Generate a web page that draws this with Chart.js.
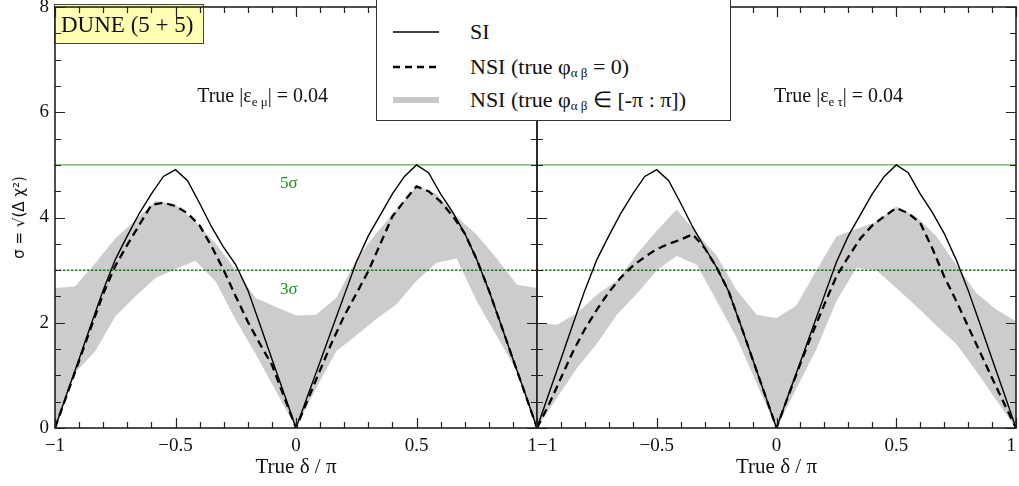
<!DOCTYPE html>
<html>
<head>
<meta charset="utf-8">
<script src="https://cdn.jsdelivr.net/npm/chart.js@4.4.1/dist/chart.umd.min.js"></script>
<style>
    body { margin: 0; background: #fff; }
    #wrap { position: relative; width: 1019px; height: 486px; overflow: hidden; }
    canvas { position: absolute; left: 0; top: 0; }
    #legend {
        position: absolute; left: 376px; top: -1px; width: 353px; height: 120px;
        border: 1px solid #333; background: #fff; z-index: 5;
        font-family: "Liberation Serif", serif; font-size: 22px; color: #111;
    }
    #legend .row { position: absolute; left: 0; height: 24px; }
    #legend svg { position: absolute; left: 14px; top: 7px; }
    #legend span { position: absolute; left: 93px; top: 0; white-space: nowrap; line-height: 24px; }
    #legend sub { font-size: 13px; vertical-align: -3px; line-height: 0; }
</style>
</head>
<body>
<div id="wrap">
    <canvas id="emuChart" width="1019" height="486"></canvas>
    <canvas id="etauChart" width="1019" height="486"></canvas>
    <div id="legend">
        <div class="row" style="top:20px"><svg width="50" height="10"><line x1="2" y1="5" x2="48" y2="5" stroke="#000" stroke-width="1.5"/></svg><span>SI</span></div>
        <div class="row" style="top:55px"><svg width="50" height="10"><line x1="2" y1="5" x2="48" y2="5" stroke="#000" stroke-width="2.4" stroke-dasharray="7,5"/></svg><span>NSI (true φ<sub>α β</sub> = 0)</span></div>
        <div class="row" style="top:88px"><svg width="50" height="10"><line x1="2" y1="5" x2="48" y2="5" stroke="#c8c8c8" stroke-width="6"/></svg><span>NSI (true φ<sub>α β</sub> ∈ [-π : π])</span></div>
    </div>
</div>
<script>
// true delta / pi grids
const deltaFine = [-1, -0.95, -0.9, -0.85, -0.8, -0.75, -0.7, -0.65, -0.6, -0.55, -0.5, -0.45, -0.4, -0.35, -0.3, -0.25, -0.2, -0.15, -0.1, -0.05,
    0, 0.05, 0.1, 0.15, 0.2, 0.25, 0.3, 0.35, 0.4, 0.45, 0.5, 0.55, 0.6, 0.65, 0.7, 0.75, 0.8, 0.85, 0.9, 0.95, 1];
const deltaBand = [-1, -0.917, -0.833, -0.75, -0.667, -0.583, -0.5, -0.417, -0.333, -0.25, -0.167, -0.083,
    0, 0.083, 0.167, 0.25, 0.333, 0.417, 0.5, 0.583, 0.667, 0.75, 0.833, 0.917, 1];

// eps_e_mu panel
const siEmu = [0, 0.66, 1.31, 1.97, 2.62, 3.2, 3.65, 4.08, 4.45, 4.78, 4.91, 4.7, 4.27, 3.82, 3.43, 3.1, 2.62, 1.97, 1.31, 0.66,
    0, 0.63, 1.26, 1.89, 2.52, 3.15, 3.65, 4.05, 4.45, 4.78, 5.0, 4.85, 4.45, 4.1, 3.7, 3.2, 2.62, 1.97, 1.31, 0.66, 0];
const nsiEmu = [0, 0.64, 1.28, 1.92, 2.55, 3.08, 3.48, 3.86, 4.24, 4.28, 4.22, 4.08, 3.85, 3.45, 3.0, 2.5, 2.02, 1.6, 1.2, 0.6,
    0, 0.55, 1.1, 1.64, 2.13, 2.55, 2.98, 3.5, 4.02, 4.32, 4.59, 4.5, 4.3, 4.03, 3.7, 3.2, 2.62, 1.97, 1.31, 0.66, 0];
const bandEmuHi = [2.66, 2.69, 3.13, 3.6, 3.95, 4.32, 4.24, 3.92, 3.5, 3.0, 2.47, 2.3,
    2.14, 2.15, 2.47, 3.2, 3.7, 4.15, 4.59, 4.45, 4.02, 3.67, 3.22, 2.72, 2.66];
const bandEmuLo = [0, 1.05, 1.46, 2.12, 2.5, 2.85, 3.02, 3.18, 2.78, 2.05, 1.4, 0.7,
    0, 0.75, 1.46, 1.76, 2.07, 2.35, 2.8, 3.14, 3.22, 2.41, 1.75, 1.08, 0];

// eps_e_tau panel
const siEtau = [0, 0.66, 1.31, 1.97, 2.62, 3.2, 3.65, 4.08, 4.45, 4.78, 4.91, 4.7, 4.27, 3.82, 3.43, 3.05, 2.6, 1.96, 1.31, 0.66,
    0, 0.63, 1.26, 1.89, 2.52, 3.15, 3.65, 4.05, 4.45, 4.78, 5.0, 4.85, 4.45, 4.1, 3.7, 3.2, 2.62, 1.97, 1.31, 0.66, 0];
const nsiEtau = [0, 0.45, 0.95, 1.45, 1.88, 2.25, 2.58, 2.86, 3.08, 3.25, 3.4, 3.5, 3.58, 3.68, 3.42, 3.05, 2.6, 1.96, 1.31, 0.66,
    0, 0.62, 1.23, 1.8, 2.35, 2.88, 3.25, 3.6, 3.85, 4.02, 4.18, 4.08, 3.9, 3.42, 2.88, 2.42, 1.93, 1.44, 0.95, 0.47, 0];
const bandEtauHi = [2.0, 1.96, 2.18, 2.53, 2.8, 3.3, 3.75, 4.15, 3.7, 3.28, 2.62, 2.15,
    2.09, 2.33, 3.0, 3.64, 3.78, 3.92, 4.21, 4.02, 3.65, 3.1, 2.57, 2.25, 2.03];
const bandEtauLo = [0, 0.57, 1.14, 1.6, 2.15, 2.55, 3.0, 3.27, 3.1, 2.42, 1.72, 0.85,
    0, 0.75, 1.5, 2.41, 3.04, 3.0, 2.66, 2.32, 1.95, 1.6, 1.09, 0.53, 0];

const sigmaLevels = [5, 3];
const xRange = [-1, 1];
const yRange = [0, 8];

const serif = '"Liberation Serif", serif';

const pts = (xs, ys) => xs.map((x, i) => ({ x: x, y: ys[i] }));
const minus = v => (v < 0 ? '\u2212' + Math.abs(v) : String(v));

function drawSub(ctx, x, y, parts) {
    let cx = x;
    parts.forEach(([t, sub]) => {
        ctx.font = sub ? '13px ' + serif : '20px ' + serif;
        ctx.fillText(t, cx, sub ? y + 4 : y);
        cx += ctx.measureText(t).width;
    });
}

// frame, inward ticks and labels drawn on top of each panel
const framePlugin = {
    id: 'frame',
    afterDraw(chart, args, opts) {
        const { ctx, chartArea: a, scales: { x, y } } = chart;
        ctx.save();
        if (opts.box) {
            ctx.fillStyle = '#ffffb3';
            ctx.strokeStyle = '#444';
            ctx.lineWidth = 1;
            ctx.fillRect(54, 4, 149, 39);
            ctx.strokeRect(54.5, 4.5, 149, 39);
            ctx.fillStyle = '#111';
            ctx.font = '23px ' + serif;
            ctx.textBaseline = 'alphabetic';
            ctx.fillText('DUNE (5 + 5)', 61, 32);
        }
        ctx.strokeStyle = '#222';
        ctx.lineWidth = 1.2;
        ctx.beginPath();
        for (let i = 0; i <= 20; i++) {
            const px = Math.round(x.getPixelForValue(-1 + i * 0.1)) + 0.5;
            const len = i % 5 === 0 ? 10 : 6;
            ctx.moveTo(px, a.bottom); ctx.lineTo(px, a.bottom - len);
            ctx.moveTo(px, a.top); ctx.lineTo(px, a.top + len);
        }
        for (let i = 0; i <= 16; i++) {
            const py = Math.round(y.getPixelForValue(i * 0.5)) + 0.5;
            const len = i % 4 === 0 ? 10 : 6;
            ctx.moveTo(a.left, py); ctx.lineTo(a.left + len, py);
            ctx.moveTo(a.right, py); ctx.lineTo(a.right - len, py);
        }
        ctx.stroke();
        ctx.lineWidth = 1.6;
        ctx.strokeRect(a.left, a.top, a.right - a.left, a.bottom - a.top);

        ctx.fillStyle = '#111';
        ctx.textBaseline = 'alphabetic';
        drawSub(ctx, x.getPixelForValue(opts.labelX), y.getPixelForValue(6.2), opts.label);

        if (opts.sigmaText) {
            ctx.fillStyle = '#1d8f1d';
            ctx.font = '17px ' + serif;
            ctx.textAlign = 'center';
            ctx.textBaseline = 'middle';
            sigmaLevels.forEach(s => {
                ctx.fillText(s + 'σ', x.getPixelForValue(-0.03), y.getPixelForValue(s) + 19);
            });
        }
        ctx.restore();
    }
};

function datasets(si, nsi, hi, lo) {
    return [
        { data: pts(deltaFine, si), borderColor: '#000', borderWidth: 1.4, order: 1 },
        { data: pts(deltaFine, nsi), borderColor: '#000', borderWidth: 2.3, borderDash: [8, 5], order: 2 },
        { data: pts(xRange, [sigmaLevels[0], sigmaLevels[0]]), borderColor: '#5aae5a', borderWidth: 1.3, order: 3 },
        { data: pts(xRange, [sigmaLevels[1], sigmaLevels[1]]), borderColor: '#0a840a', borderWidth: 1.5, borderDash: [2.5, 1.5], order: 3 },
        { data: pts(deltaBand, hi), borderColor: 'rgba(0,0,0,0)', borderWidth: 0, backgroundColor: '#cccccc', fill: '+1', order: 9 },
        { data: pts(deltaBand, lo), borderColor: 'rgba(0,0,0,0)', borderWidth: 0, fill: false, order: 9 }
    ];
}

function makeChart(el, cfg) {
    return new Chart(el, {
        type: 'line',
        data: { datasets: cfg.sets },
        options: {
            responsive: false,
            animation: false,
            devicePixelRatio: 1,
            elements: { point: { radius: 0 }, line: { tension: 0 } },
            layout: { padding: cfg.padding },
            plugins: {
                legend: { display: false },
                tooltip: { enabled: false },
                frame: cfg.frame
            },
            scales: {
                x: {
                    type: 'linear',
                    min: xRange[0],
                    max: xRange[1],
                    grid: { display: false, drawTicks: false },
                    border: { display: false },
                    ticks: {
                        stepSize: 0.5,
                        padding: 7,
                        align: cfg.tickAlign,
                        color: '#111',
                        font: { family: serif, size: 19 },
                        callback: cfg.xLabel
                    },
                    title: {
                        display: true,
                        text: 'True δ / π',
                        color: '#111',
                        font: { family: serif, size: 21 },
                        padding: { top: 0, bottom: 6 }
                    },
                    afterFit: s => { s.height = 58; s.paddingRight = 3; }
                },
                y: {
                    min: yRange[0],
                    max: yRange[1],
                    display: cfg.showY,
                    grid: { display: false, drawTicks: false },
                    border: { display: false },
                    ticks: {
                        stepSize: 2,
                        padding: 6,
                        color: '#111',
                        font: { family: serif, size: 19 }
                    },
                    title: {
                        display: true,
                        text: 'σ = √(Δ χ²)',
                        color: '#111',
                        font: { family: '"DejaVu Sans", sans-serif', size: 15 },
                        padding: { top: 11, bottom: 0 }
                    },
                    afterFit: s => { s.width = cfg.showY ? 55 : 0; s.paddingTop = 0; s.paddingBottom = 0; }
                }
            }
        },
        plugins: [framePlugin]
    });
}

makeChart(document.getElementById('emuChart'), {
    sets: datasets(siEmu, nsiEmu, bandEmuHi, bandEmuLo),
    padding: { top: 7, right: 482, left: 0, bottom: 0 },
    tickAlign: 'center',
    showY: true,
    xLabel: v => (v === 1 ? '1\u2002' : minus(v)),
    frame: { box: true, sigmaText: true, labelX: -0.41, label: [['True |ε'], ['e μ', true], ['| = 0.04']] }
});

makeChart(document.getElementById('etauChart'), {
    sets: datasets(siEtau, nsiEtau, bandEtauHi, bandEtauLo),
    padding: { top: 7, right: 0, left: 537, bottom: 0 },
    tickAlign: 'inner',
    showY: false,
    xLabel: v => minus(v),
    frame: { box: false, sigmaText: false, labelX: -0.01, label: [['True |ε'], ['e τ', true], ['| = 0.04']] }
});
</script>
</body>
</html>
